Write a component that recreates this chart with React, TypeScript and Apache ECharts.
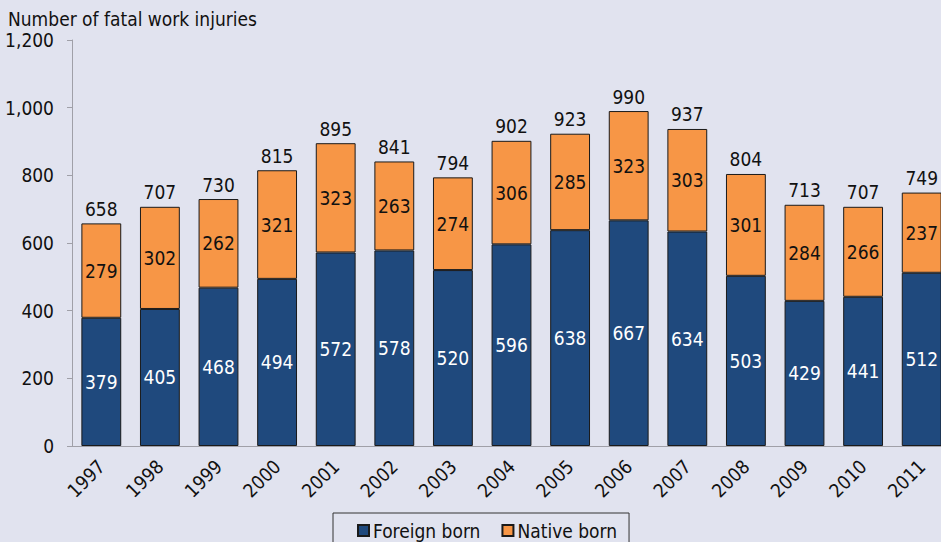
import React, { useEffect, useRef } from "react";
import * as echarts from "echarts";

const years = ["1997","1998","1999","2000","2001","2002","2003","2004","2005","2006","2007","2008","2009","2010","2011"];
const foreignBorn = [379,405,468,494,572,578,520,596,638,667,634,503,429,441,512];
const nativeBorn = [279,302,262,321,323,263,274,306,285,323,303,301,284,266,237];
const totals = [658,707,730,815,895,841,794,902,923,990,937,804,713,707,749];
const yTicks = { min: 0, max: 1200, interval: 200 };

const FONT = "'DejaVu Sans Condensed', 'DejaVu Sans', sans-serif";
const FS = 19;

export default function App() {
  const ref = useRef<HTMLDivElement>(null);
  useEffect(() => {
    if (!ref.current) return;
    const chart = echarts.init(ref.current, null, { renderer: "svg" });
    chart.setOption({
      animation: false,
      backgroundColor: "#e1e3ef",
      textStyle: { fontFamily: FONT },
      title: {
        text: "Number of fatal work injuries",
        left: 3,
        top: 4,
        textStyle: { fontFamily: FONT, fontSize: FS, fontWeight: "normal", color: "#111" },
      },
      grid: { left: 72, right: 0, top: 40, bottom: 96 },
      legend: {
        data: ["Foreign born", "Native born"],
        left: 333,
        top: 513,
        padding: [8, 12, 30, 24],
        borderColor: "#333",
        borderWidth: 1,
        itemWidth: 11,
        itemHeight: 11,
        itemGap: 21,
        icon: "rect",
        textStyle: { fontFamily: FONT, fontSize: FS, color: "#111", padding: [0, 0, 0, -1] },
      },
      xAxis: {
        type: "category",
        data: years,
        axisLine: { lineStyle: { color: "#a0a0a8" } },
        axisTick: { length: 5, lineStyle: { color: "#a0a0a8" } },
        axisLabel: { rotate: 45, margin: 17, fontFamily: FONT, fontSize: FS, color: "#111" },
      },
      yAxis: {
        type: "value",
        min: yTicks.min,
        max: yTicks.max,
        interval: yTicks.interval,
        splitLine: { show: false },
        axisLine: { show: true, lineStyle: { color: "#a0a0a8" } },
        axisTick: { show: true, length: 5, lineStyle: { color: "#a0a0a8" } },
        axisLabel: {
          margin: 18,
          fontFamily: FONT,
          fontSize: FS,
          color: "#111",
          formatter: (v: number) => v.toLocaleString("en-US"),
        },
      },
      series: [
        {
          name: "Foreign born",
          type: "bar",
          stack: "all",
          barCategoryGap: "32%",
          data: foreignBorn,
          itemStyle: { color: "#1f497d", borderColor: "#1a1a1a", borderWidth: 1 },
          label: { show: true, position: "inside", color: "#fff", fontFamily: FONT, fontSize: FS },
        },
        {
          name: "Native born",
          type: "bar",
          stack: "all",
          data: nativeBorn,
          itemStyle: { color: "#f79646", borderColor: "#1a1a1a", borderWidth: 1 },
          label: { show: true, position: "inside", color: "#111", fontFamily: FONT, fontSize: FS },
        },
        {
          name: "Total",
          type: "bar",
          stack: "all",
          data: totals.map(() => 0),
          itemStyle: { color: "transparent", borderWidth: 0 },
          label: {
            show: true,
            position: "top",
            distance: 5,
            color: "#111",
            fontFamily: FONT,
            fontSize: FS,
            formatter: (p: any) => String(totals[p.dataIndex]),
          },
        },
      ],
    });
    return () => chart.dispose();
  }, []);
  return (
    <div style={{ position: "fixed", left: 0, top: 0, width: 941, height: 542, overflow: "hidden" }}>
      <div ref={ref} style={{ width: 951, height: 542 }} />
    </div>
  );
}
